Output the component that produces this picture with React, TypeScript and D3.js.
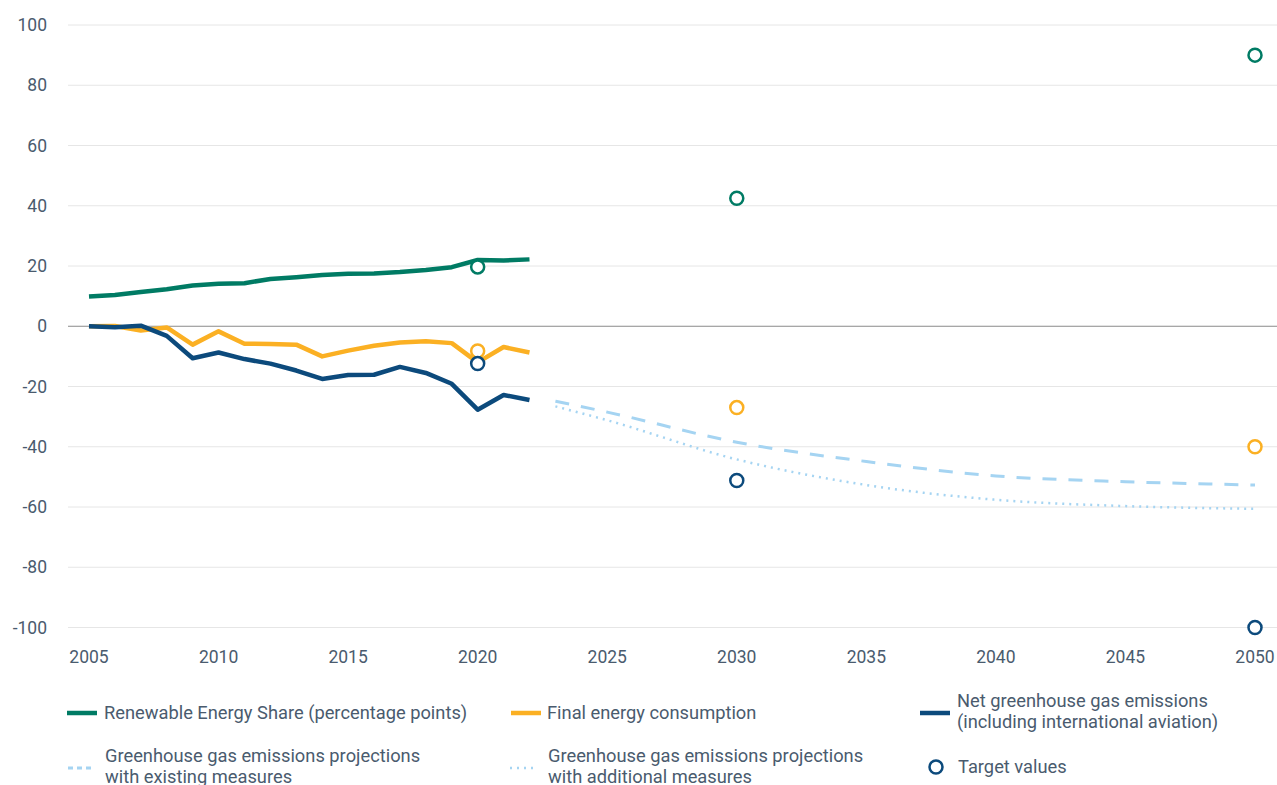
import React from "react";
import * as d3 from "d3";

const years = [2005, 2006, 2007, 2008, 2009, 2010, 2011, 2012, 2013, 2014, 2015, 2016, 2017, 2018, 2019, 2020, 2021, 2022];
const renewableShare = [9.9, 10.4, 11.4, 12.3, 13.5, 14.1, 14.3, 15.7, 16.3, 17.0, 17.4, 17.5, 18.0, 18.7, 19.6, 22.0, 21.8, 22.2];
const finalEnergy = [0, 0.1, -1.4, -0.4, -6.1, -1.7, -5.8, -5.9, -6.1, -10.0, -8.1, -6.5, -5.4, -5.0, -5.6, -12.0, -6.9, -8.7];
const netGhg = [0, -0.3, 0.2, -3.2, -10.6, -8.7, -10.9, -12.4, -14.7, -17.5, -16.2, -16.1, -13.5, -15.5, -19.1, -27.7, -22.8, -24.5];

const projYears = [2023, 2025, 2030, 2035, 2040, 2045, 2050];
const projExisting = [-24.9, -28.5, -38.5, -44.9, -49.7, -51.6, -52.7];
const projAdditional = [-26.6, -31.2, -44.2, -52.7, -57.6, -59.7, -60.6];

const targetYears = [2020, 2030, 2050];
const targetRenewable = [19.7, 42.5, 90];
const targetFinalEnergy = [-8.2, -27, -40];
const targetGhg = [-12.4, -51.2, -100];

const yTicks = [100, 80, 60, 40, 20, 0, -20, -40, -60, -80, -100];
const xTicks = [2005, 2010, 2015, 2020, 2025, 2030, 2035, 2040, 2045, 2050];

const GREEN = "#007b64";
const ORANGE = "#fbb023";
const NAVY = "#0c4a7c";
const LIGHT = "#a5d4f2";
const TEXT = "#4a5b6e";
const FONT = "Roboto, 'Noto Sans', sans-serif";

export default function App() {
  const W = 1277;
  const H = 785;
  const x = d3.scaleLinear().domain([2005, 2050]).range([89, 1255]);
  const y = d3.scaleLinear().domain([-100, 100]).range([627.5, 25]);

  const line = d3
    .line<[number, number]>()
    .x((d) => x(d[0]))
    .y((d) => y(d[1]));
  const curve = d3
    .line<[number, number]>()
    .x((d) => x(d[0]))
    .y((d) => y(d[1]))
    .curve(d3.curveMonotoneX);

  const zip = (xs: number[], vs: number[]) => xs.map((v, i) => [v, vs[i]] as [number, number]);

  const histSeries = [
    { vals: renewableShare, color: GREEN },
    { vals: finalEnergy, color: ORANGE },
    { vals: netGhg, color: NAVY },
  ];
  const targets = [
    { vals: targetRenewable, color: GREEN },
    { vals: targetFinalEnergy, color: ORANGE },
    { vals: targetGhg, color: NAVY },
  ];

  const legendText = { fontFamily: FONT, fontSize: 18.3, fill: TEXT } as const;

  return (
    <svg width={W} height={H} style={{ position: "absolute", left: 0, top: 0, background: "#fff" }}>
      {/* grid */}
      {yTicks.map((t) => (
        <line
          key={"g" + t}
          x1={68}
          x2={W}
          y1={y(t)}
          y2={y(t)}
          stroke={t === 0 ? "#8a8a8a" : "#e6e6e6"}
          strokeWidth={1}
        />
      ))}
      {yTicks.map((t) => (
        <text
          key={"yl" + t}
          x={47}
          y={y(t)}
          dy="0.35em"
          textAnchor="end"
          style={{ fontFamily: FONT, fontSize: 17.5, fill: TEXT }}
        >
          {t}
        </text>
      ))}
      {xTicks.map((t) => (
        <text
          key={"xl" + t}
          x={x(t)}
          y={663}
          textAnchor="middle"
          style={{ fontFamily: FONT, fontSize: 17.5, fill: TEXT }}
        >
          {t}
        </text>
      ))}

      {/* projections */}
      <path
        d={curve(zip(projYears, projExisting)) || ""}
        fill="none"
        stroke={LIGHT}
        strokeWidth={3}
        strokeDasharray="14,12"
      />
      <path
        d={curve(zip(projYears, projAdditional)) || ""}
        fill="none"
        stroke={LIGHT}
        strokeWidth={2.5}
        strokeDasharray="2,5"
      />

      {/* historical */}
      {histSeries.map((s, i) => (
        <path
          key={"h" + i}
          d={line(zip(years, s.vals)) || ""}
          fill="none"
          stroke={s.color}
          strokeWidth={4.5}
          strokeLinejoin="round"
        />
      ))}

      {/* targets */}
      {targets.map((s, i) =>
        s.vals.map((v, j) => (
          <circle
            key={"t" + i + "-" + j}
            cx={x(targetYears[j])}
            cy={y(v)}
            r={6.5}
            fill="#fff"
            stroke={s.color}
            strokeWidth={2.5}
          />
        ))
      )}

      {/* legend row 1 */}
      <line x1={67} x2={97} y1={713} y2={713} stroke={GREEN} strokeWidth={4.5} />
      <text x={104} y={719} style={legendText}>Renewable Energy Share (percentage points)</text>

      <line x1={511} x2={541} y1={713} y2={713} stroke={ORANGE} strokeWidth={4.5} />
      <text x={547} y={719} style={legendText}>Final energy consumption</text>

      <line x1={920} x2={950} y1={713} y2={713} stroke={NAVY} strokeWidth={4.5} />
      <text x={957} y={707} style={legendText}>Net greenhouse gas emissions</text>
      <text x={957} y={728} style={legendText}>(including international aviation)</text>

      {/* legend row 2 */}
      <line x1={68} x2={94} y1={768} y2={768} stroke={LIGHT} strokeWidth={3} strokeDasharray="5,4" />
      <text x={105} y={762} style={legendText}>Greenhouse gas emissions projections</text>
      <text x={105} y={783} style={legendText}>with existing measures</text>

      <line x1={510} x2={537} y1={768} y2={768} stroke={LIGHT} strokeWidth={2.5} strokeDasharray="2,5" />
      <text x={548} y={762} style={legendText}>Greenhouse gas emissions projections</text>
      <text x={548} y={783} style={legendText}>with additional measures</text>

      <circle cx={936} cy={767} r={6.5} fill="#fff" stroke={NAVY} strokeWidth={2.5} />
      <text x={958} y={773} style={legendText}>Target values</text>
    </svg>
  );
}
